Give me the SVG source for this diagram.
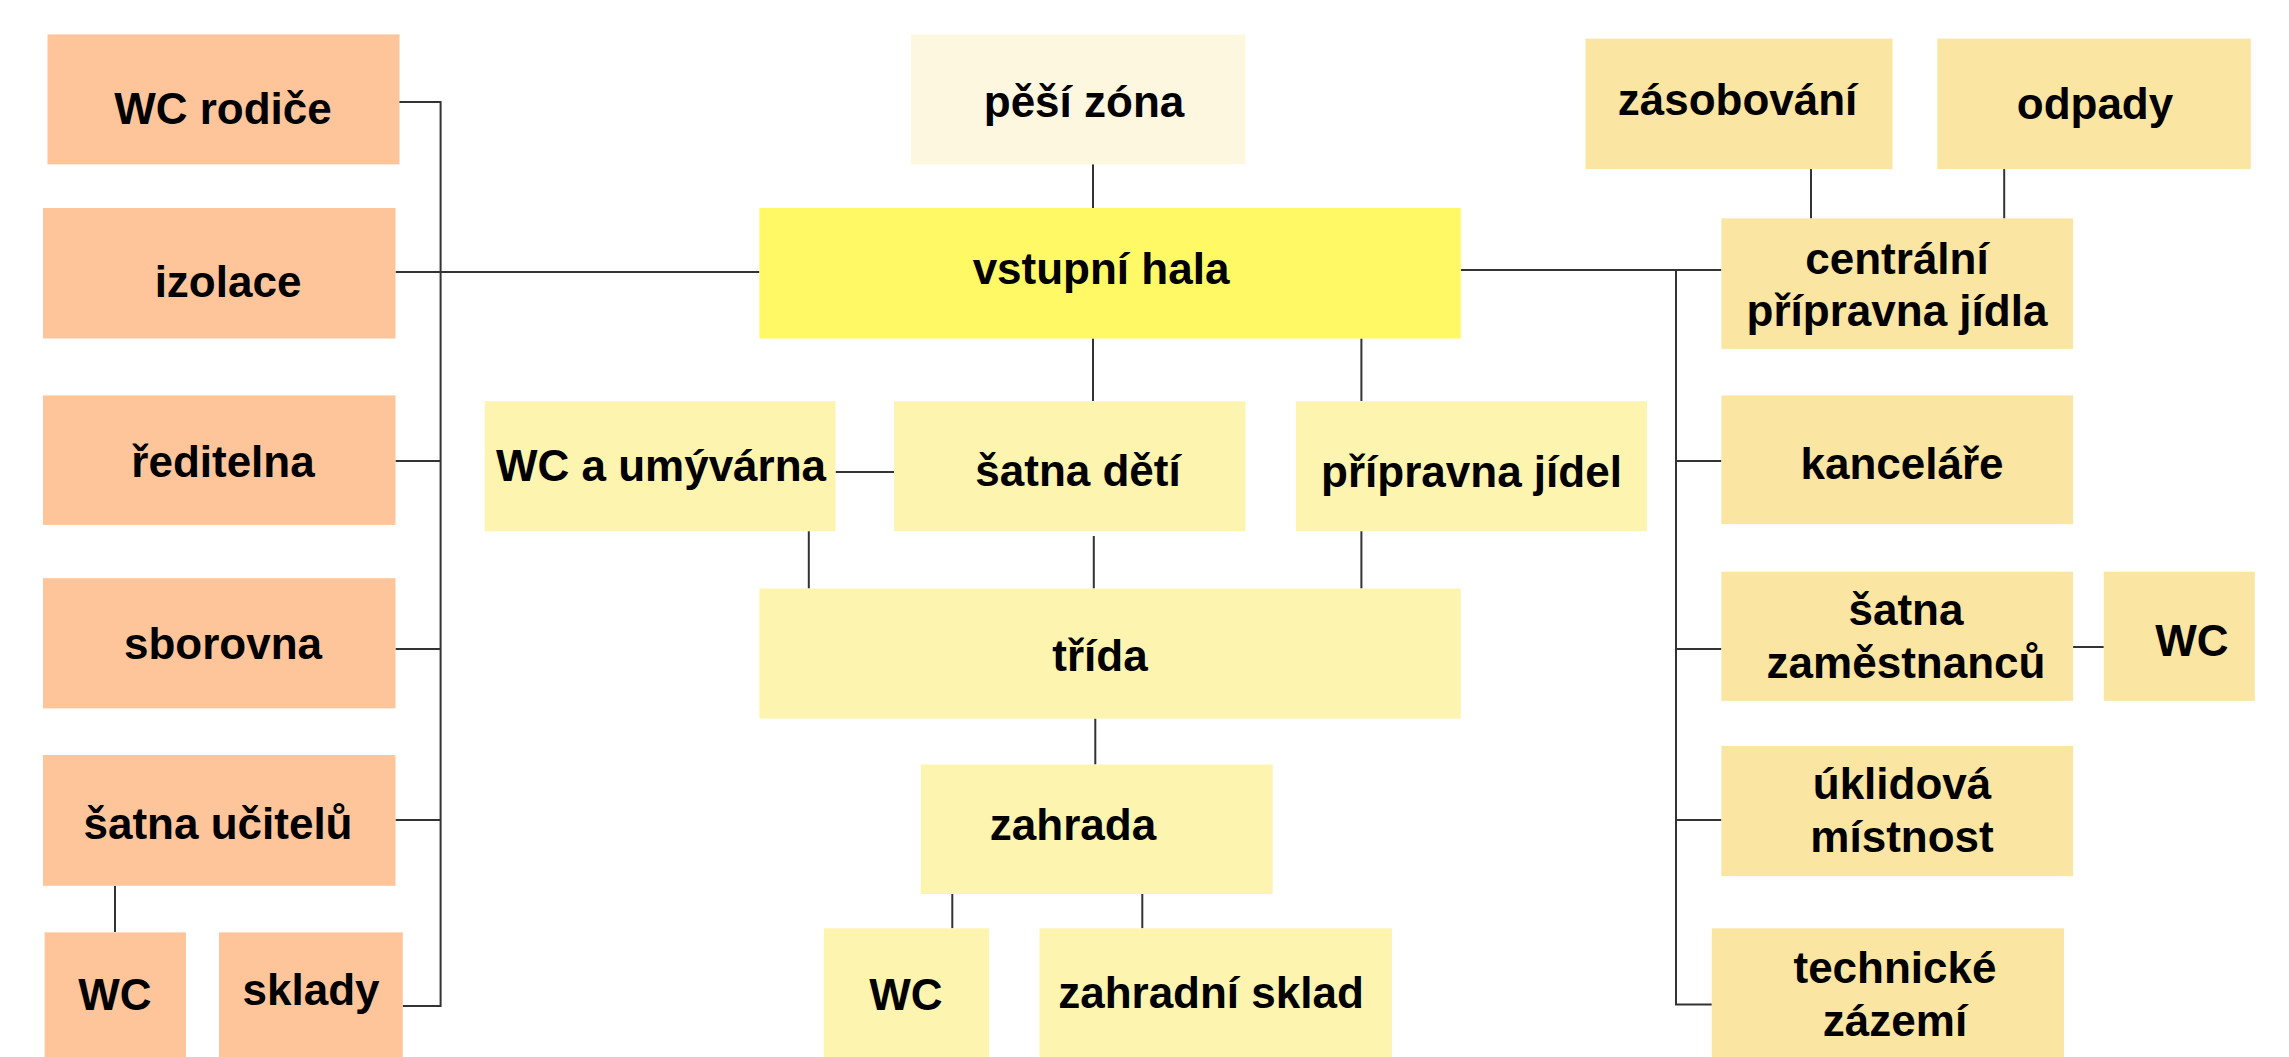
<svg xmlns="http://www.w3.org/2000/svg" width="2289" height="1057" viewBox="0 0 2289 1057">
<style>
text{font-family:"Liberation Sans",Arial,sans-serif;font-weight:bold;font-size:44px;fill:#000;text-anchor:middle}
.or{fill:#FEC59B}
.hl{fill:#FFF966}
.ly{fill:#FDF4B0}
.pz{fill:#FDF7E0}
.ry{fill:#FBE5A2}
.c{stroke:#333;stroke-width:2;fill:none}
</style>
<rect width="2289" height="1057" fill="#fff"/>
<g id="connectors">
<path class="c" d="M399 102H440.6V1006H402.8"/>
<path class="c" d="M395.5 272H759.4"/>
<path class="c" d="M395.5 461H440.6M395.5 649H440.6M395.5 820H440.6"/>
<path class="c" d="M115 886V932"/>
<path class="c" d="M1093 164V208M1093 338.5V401M1361.4 338.5V401"/>
<path class="c" d="M835.5 472H894"/>
<path class="c" d="M808.8 531V588.5M1093.8 536V588.5M1361.4 531V588.5"/>
<path class="c" d="M1095.3 718.6V764.5M952.3 894V928.3M1142.3 894V928.3"/>
<path class="c" d="M1460.8 270H1721.4M1676 270V1004.6H1711.8M1676 461H1721.4M1676 649H1721.4M1676 820H1721.4"/>
<path class="c" d="M1811 169V218.4M2004.2 169V218.4"/>
<path class="c" d="M2073 647H2103.8"/>
</g>
<g id="wc-rodice"><rect class="or" x="47.5" y="34.4" width="352" height="130"/><text x="223" y="124">WC rodiče</text></g>
<g id="izolace"><rect class="or" x="43" y="208" width="352.5" height="130.5"/><text x="228" y="297">izolace</text></g>
<g id="reditelna"><rect class="or" x="43" y="395.4" width="352.5" height="129.5"/><text x="223" y="477">ředitelna</text></g>
<g id="sborovna"><rect class="or" x="43" y="578.2" width="352.5" height="130.2"/><text x="223" y="659">sborovna</text></g>
<g id="satna-ucitelu"><rect class="or" x="43" y="755" width="352.5" height="130.8"/><text x="218" y="838.5">šatna učitelů</text></g>
<g id="wc-ucitele"><rect class="or" x="44.6" y="932.4" width="141.4" height="130"/><text x="115" y="1010">WC</text></g>
<g id="sklady"><rect class="or" x="219" y="932.4" width="183.8" height="130"/><text x="311" y="1005">sklady</text></g>
<g id="pesi-zona"><rect class="pz" x="911" y="34.4" width="334.5" height="130"/><text x="1084" y="117">pěší zóna</text></g>
<g id="vstupni-hala"><rect class="hl" x="759.4" y="208" width="701.4" height="130.5"/><text x="1101" y="284">vstupní hala</text></g>
<g id="wc-umyvarna"><rect class="ly" x="484.7" y="401.2" width="350.8" height="130.1"/><text x="661" y="481">WC a umývárna</text></g>
<g id="satna-deti"><rect class="ly" x="894" y="401.2" width="351.5" height="130.1"/><text x="1078" y="486">šatna dětí</text></g>
<g id="pripravna-jidel"><rect class="ly" x="1296" y="401.2" width="351" height="130.1"/><text x="1471.5" y="487">přípravna jídel</text></g>
<g id="trida"><rect class="ly" x="759.4" y="588.5" width="701.4" height="130.1"/><text x="1100" y="671">třída</text></g>
<g id="zahrada"><rect class="ly" x="920.8" y="764.5" width="351.9" height="129.5"/><text x="1073" y="840">zahrada</text></g>
<g id="wc-zahrada"><rect class="ly" x="823.9" y="928.3" width="165.2" height="135"/><text x="906" y="1010">WC</text></g>
<g id="zahradni-sklad"><rect class="ly" x="1039.5" y="928.3" width="352.5" height="135"/><text x="1211" y="1008">zahradní sklad</text></g>
<g id="zasobovani"><rect class="ry" x="1585.5" y="38.6" width="307" height="130.5"/><text x="1737.5" y="115">zásobování</text></g>
<g id="odpady"><rect class="ry" x="1937.3" y="38.6" width="313.5" height="130.5"/><text x="2095" y="119">odpady</text></g>
<g id="centralni-pripravna"><rect class="ry" x="1721.4" y="218.4" width="351.7" height="130.5"/><text x="1897" y="274">centrální</text><text x="1897" y="325.5">přípravna jídla</text></g>
<g id="kancelare"><rect class="ry" x="1721.4" y="395.4" width="351.7" height="128.8"/><text x="1902" y="479">kanceláře</text></g>
<g id="satna-zamestnancu"><rect class="ry" x="1721.4" y="571.7" width="351.7" height="129.1"/><text x="1906" y="624.5">šatna</text><text x="1906" y="678">zaměstnanců</text></g>
<g id="wc-zamestnanci"><rect class="ry" x="2103.8" y="571.7" width="151" height="129.1"/><text x="2192" y="656">WC</text></g>
<g id="uklidova-mistnost"><rect class="ry" x="1721.4" y="746" width="351.7" height="130.2"/><text x="1902" y="799">úklidová</text><text x="1902" y="851.5">místnost</text></g>
<g id="technicke-zazemi"><rect class="ry" x="1711.8" y="928.3" width="352.2" height="135"/><text x="1895" y="983">technické</text><text x="1895" y="1035.5">zázemí</text></g>
</svg>
